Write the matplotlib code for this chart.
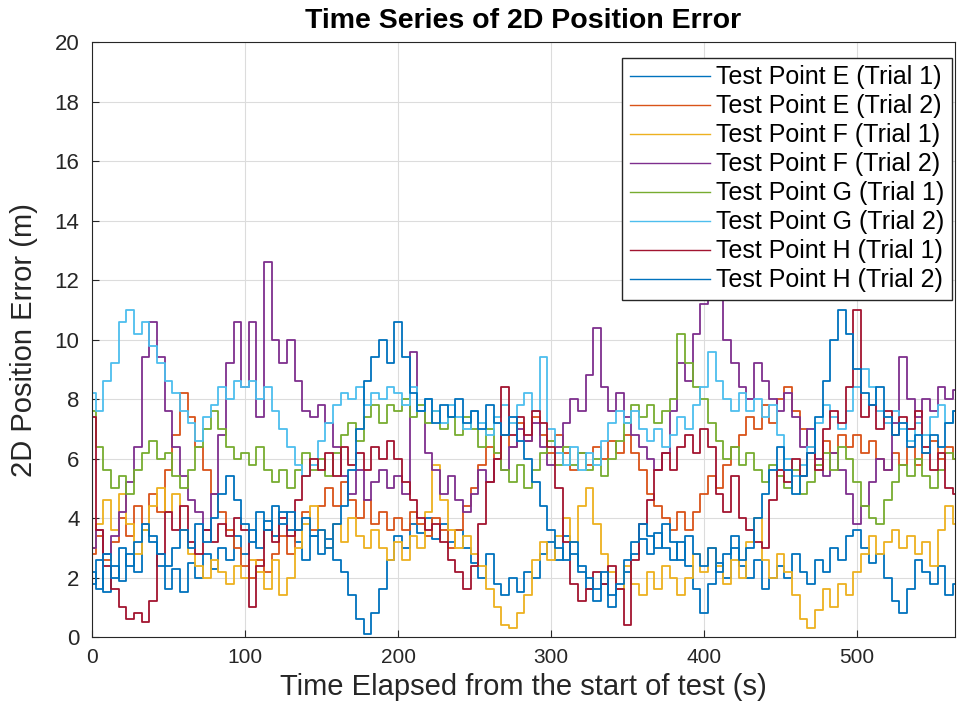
"""
Time series of 2D position error for test points E-H (two trials each).
"""

import numpy as np
import matplotlib
matplotlib.use("Agg")
import matplotlib.pyplot as plt

plt.rcParams["font.family"] = ["Liberation Sans", "DejaVu Sans"]

# Sample times (s), one value every 5 s
time_s = np.arange(0, 566, 5)

e_trial1 = [
    1.8, 2.6, 1.5, 2.4, 1.9, 2.8, 2.2, 3.6, 3.2, 2.4,
    1.6, 2.3, 1.5, 2.5, 2.0, 2.8, 2.3, 3.0, 2.6, 3.4,
    2.8, 3.6, 3.0, 3.9, 3.4, 4.2, 3.6, 3.2, 2.6, 3.4,
    2.8, 3.3, 2.6, 2.2, 1.4, 0.6, 0.1, 0.8, 1.6, 2.6,
    3.4, 3.0, 3.8, 3.5, 4.0, 3.3, 3.8, 3.2, 3.6, 3.0,
    2.5, 2.0, 2.8, 1.8, 1.4, 2.0, 1.5, 2.2, 2.0, 2.8,
    3.2, 2.6, 3.4, 2.8, 2.2, 1.6, 1.2, 1.8, 1.0, 1.6,
    2.2, 2.8, 3.3, 2.8, 3.5, 3.0, 2.6, 3.2, 2.4, 1.6,
    0.8, 1.8, 2.5, 2.0, 3.0, 2.4, 2.0, 2.6, 1.6, 2.0,
    2.4, 2.0, 2.8, 2.2, 1.8, 2.6, 2.2, 3.0, 2.6, 3.4,
    3.6, 3.0, 2.5, 2.8, 2.0, 1.2, 0.8, 1.6, 2.6, 2.2,
    1.8, 2.4, 1.4, 1.8,
]
e_trial2 = [
    2.8, 3.4, 2.6, 3.2, 4.0, 3.4, 4.4, 3.8, 4.8, 4.2,
    5.6, 6.8, 8.2, 7.4, 6.4, 5.6, 4.8, 4.2, 3.6, 3.0,
    2.4, 2.0, 2.6, 2.2, 2.8, 3.4, 2.8, 3.6, 4.2, 3.6,
    4.4, 5.0, 4.4, 5.2, 4.6, 4.0, 4.6, 3.8, 4.2, 3.6,
    4.0, 3.6, 4.2, 3.8, 3.4, 4.0, 3.6, 3.0, 3.6, 4.4,
    5.0, 5.8, 6.4, 6.0, 6.8, 6.4, 7.2, 6.6, 7.4, 6.8,
    6.2, 6.8, 6.2, 5.6, 6.2, 5.8, 6.4, 6.0, 6.6, 6.2,
    6.8, 6.2, 5.6, 4.8, 4.4, 4.0, 3.6, 4.2, 3.6, 4.2,
    4.8, 5.4, 5.0, 5.8, 6.4, 6.8, 7.4, 7.0, 7.8, 7.2,
    8.0, 8.4, 7.6, 7.0, 6.4, 6.0, 6.6, 6.2, 6.8, 6.4,
    6.8, 6.2, 6.6, 6.0, 5.6, 6.2, 5.8, 6.4, 5.8, 6.2,
    6.6, 6.0, 6.4, 6.0,
]
f_trial1 = [
    3.0, 3.8, 4.6, 3.6, 4.8, 3.8, 2.8, 3.6, 4.4, 5.0,
    4.2, 4.8, 3.6, 2.8, 2.4, 2.0, 2.6, 2.2, 1.8, 2.4,
    2.0, 2.6, 2.2, 1.6, 2.6, 1.4, 2.0, 3.0, 3.8, 4.4,
    3.6, 3.0, 3.8, 3.2, 4.0, 3.4, 3.0, 3.6, 3.0, 2.6,
    3.2, 2.6, 3.4, 3.0, 4.2, 5.8, 4.6, 3.6, 3.0, 3.4,
    2.8, 2.4, 1.6, 1.0, 0.4, 0.3, 0.8, 1.4, 2.6, 3.2,
    2.6, 3.4, 4.0, 3.2, 4.4, 5.0, 3.8, 2.8, 2.2, 1.6,
    2.4, 1.8, 1.4, 2.2, 1.6, 2.4, 2.0, 1.4, 2.0, 2.8,
    2.2, 3.0, 2.4, 1.8, 2.6, 2.0, 3.2, 4.0, 2.6, 2.0,
    2.8, 2.2, 1.4, 0.6, 0.3, 0.9, 1.6, 1.0, 1.8, 1.4,
    2.2, 2.8, 3.4, 2.8, 3.2, 3.6, 3.0, 3.4, 2.8, 3.2,
    2.4, 3.6, 4.4, 3.8,
]
f_trial2 = [
    3.0, 3.6, 2.8, 3.4, 4.2, 5.2, 6.4, 9.4, 10.6, 9.4,
    7.6, 6.4, 5.4, 4.6, 4.2, 3.6, 4.8, 6.8, 9.2, 10.6,
    8.4, 10.6, 7.4, 12.6, 10.0, 9.2, 10.0, 8.6, 7.6, 7.4,
    7.8, 7.2, 6.4, 5.4, 4.8, 5.6, 4.6, 5.2, 5.6, 5.0,
    5.4, 4.8, 9.6, 7.6, 6.2, 5.6, 4.8, 5.4, 4.6, 4.2,
    4.8, 5.6, 5.2, 6.0, 5.6, 6.4, 7.0, 6.6, 7.2, 6.4,
    5.8, 6.4, 7.2, 8.0, 7.6, 8.8, 10.4, 8.4, 7.6, 8.2,
    7.4, 6.8, 6.4, 6.0, 5.6, 6.2, 7.6, 9.2, 8.6, 10.2,
    11.2, 11.8, 11.4, 10.0, 9.2, 8.4, 8.0, 9.2, 8.6, 8.0,
    7.6, 8.2, 7.4, 6.4, 7.0, 6.0, 5.4, 6.2, 5.6, 4.8,
    3.8, 4.4, 5.2, 6.0, 5.6, 7.2, 9.4, 8.0, 7.4, 8.0,
    7.6, 8.4, 8.0, 8.3,
]
g_trial1 = [
    7.6, 6.4, 5.6, 5.0, 5.4, 4.8, 5.6, 6.2, 6.6, 6.0,
    6.2, 5.4, 5.0, 5.6, 6.4, 7.0, 7.6, 7.0, 6.4, 6.0,
    6.2, 5.8, 6.4, 5.6, 5.2, 5.6, 5.0, 5.6, 6.2, 5.6,
    6.0, 5.4, 6.2, 6.8, 7.2, 6.6, 7.4, 7.8, 7.2, 7.8,
    7.6, 8.0, 7.4, 7.8, 7.2, 7.6, 7.0, 7.4, 6.8, 7.4,
    7.0, 6.4, 7.0, 6.2, 5.6, 5.2, 5.8, 5.0, 5.6, 6.2,
    6.6, 5.8, 6.4, 5.8, 6.2, 5.6, 6.0, 5.4, 6.0, 6.6,
    7.2, 7.8, 7.4, 7.8, 7.2, 7.6, 8.0, 10.2, 9.2, 8.4,
    8.0, 7.2, 6.6, 6.0, 6.4, 5.8, 6.2, 5.6, 5.2, 5.8,
    5.4, 5.0, 5.6, 4.8, 5.2, 5.8, 6.2, 5.6, 6.4, 6.0,
    5.2, 4.4, 4.0, 3.8, 4.6, 5.2, 5.8, 5.4, 6.0, 5.4,
    5.0, 5.6, 6.2, 6.0,
]
g_trial2 = [
    8.2, 7.6, 8.6, 9.2, 10.6, 11.0, 10.2, 10.6, 9.8, 9.2,
    8.6, 8.2, 7.6, 7.2, 6.6, 7.4, 7.8, 8.4, 8.0, 8.6,
    8.4, 8.6, 8.0, 8.4, 7.6, 7.0, 6.4, 5.8, 5.4, 5.8,
    6.6, 7.2, 7.8, 8.2, 8.0, 8.4, 7.8, 8.2, 8.0, 8.4,
    8.2, 7.8, 8.4, 7.6, 8.0, 7.6, 7.2, 7.8, 7.4, 7.0,
    7.6, 7.2, 6.8, 7.4, 7.8, 7.2, 7.8, 8.2, 7.6, 9.4,
    7.0, 6.2, 5.8, 6.4, 5.6, 6.2, 5.8, 6.6, 7.2, 7.6,
    7.2, 7.6, 7.0, 6.6, 7.0, 6.4, 6.8, 7.4, 7.0, 7.8,
    8.4, 9.6, 8.6, 8.0, 7.6, 8.2, 7.6, 8.0, 7.4, 7.8,
    6.8, 6.0, 5.4, 5.8, 6.4, 7.2, 7.8, 7.4, 7.0, 7.6,
    8.4, 9.0, 8.4, 7.6, 7.2, 7.6, 7.0, 6.6, 7.2, 6.8,
    7.4, 7.8, 7.2, 7.6,
]
h_trial1 = [
    7.4, 3.6, 2.4, 1.6, 1.0, 0.6, 0.8, 0.5, 1.2, 2.8,
    4.2, 3.6, 4.4, 3.2, 2.8, 3.6, 3.2, 3.8, 3.4, 4.0,
    3.6, 1.0, 2.4, 3.6, 3.2, 4.0, 3.4, 4.6, 5.4, 6.0,
    5.6, 6.2, 5.4, 6.4, 5.8, 6.2, 5.6, 6.4, 6.0, 6.6,
    6.0, 5.2, 4.6, 4.0, 3.6, 3.8, 3.2, 2.6, 2.2, 1.6,
    2.4, 3.8, 5.2, 6.0, 8.4, 6.8, 7.4, 6.8, 7.6, 7.2,
    6.4, 5.0, 3.2, 1.8, 1.2, 1.6, 2.2, 1.8, 2.4, 1.6,
    0.4, 2.6, 3.8, 4.6, 5.6, 6.2, 5.6, 6.4, 6.8, 6.2,
    7.0, 6.4, 4.8, 4.2, 5.4, 4.0, 3.6, 3.2, 3.0, 4.6,
    5.6, 5.2, 6.0, 5.4, 6.2, 5.6, 7.0, 7.6, 7.2, 8.4,
    11.0, 7.4, 7.8, 7.0, 7.6, 6.8, 7.4, 7.0, 7.6, 6.4,
    5.6, 6.2, 5.0, 4.8,
]
h_trial2 = [
    2.2, 1.6, 2.8, 2.0, 3.0, 2.4, 3.2, 3.8, 3.4, 2.8,
    2.4, 3.0, 3.6, 3.0, 3.8, 3.2, 4.0, 4.8, 5.4, 4.6,
    3.8, 3.2, 4.2, 3.6, 4.4, 3.8, 4.2, 3.6, 4.0, 3.4,
    3.6, 3.0, 3.8, 4.4, 5.6, 7.0, 8.6, 9.4, 10.0, 9.2,
    10.6, 9.4, 8.2, 7.6, 8.0, 7.2, 7.8, 7.4, 8.0, 7.2,
    7.6, 7.0, 7.8, 7.2, 6.8, 7.4, 6.6, 6.0, 5.2, 4.4,
    3.6, 3.0, 2.6, 3.2, 2.4, 2.0, 1.6, 2.2, 1.4, 1.8,
    2.6, 3.2, 3.8, 3.4, 3.0, 3.8, 3.2, 2.6, 3.4, 2.8,
    2.4, 3.0, 2.2, 2.8, 3.4, 2.6, 3.0, 4.0, 4.8, 5.6,
    6.4, 5.6, 4.8, 5.4, 6.2, 7.4, 8.6, 10.0, 11.0, 10.2,
    9.0, 8.2, 7.8, 8.4, 7.4, 6.8, 7.2, 6.4, 6.8, 6.2,
    6.8, 6.4, 7.2, 7.6,
]

series = [e_trial1, e_trial2, f_trial1, f_trial2,
          g_trial1, g_trial2, h_trial1, h_trial2]
labels = ["Test Point E (Trial 1)", "Test Point E (Trial 2)",
          "Test Point F (Trial 1)", "Test Point F (Trial 2)",
          "Test Point G (Trial 1)", "Test Point G (Trial 2)",
          "Test Point H (Trial 1)", "Test Point H (Trial 2)"]

# MATLAB default line colours (the order wraps round after seven)
colors = ["#0072BD", "#D95319", "#EDB120", "#7E2F8E",
          "#77AC30", "#4DBEEE", "#A2142F", "#0072BD"]

fig = plt.figure(figsize=(9.58, 7.15), dpi=100)
ax = fig.add_axes([0.096, 0.109, 0.901, 0.832])

for vals, label, color in zip(series, labels, colors):
    ax.plot(time_s, vals, color=color, linewidth=1.3, label=label,
            drawstyle="steps-mid")

ax.set_xlim(0, 564)
ax.set_ylim(0, 20)
ax.set_xticks(np.arange(0, 501, 100))
ax.set_yticks(np.arange(0, 21, 2))
ax.tick_params(direction="in", labelsize=15, colors="#262626", length=5)
ax.tick_params(axis="x", pad=8)
ax.tick_params(axis="y", pad=9, labelsize=16)
ax.grid(True, color="#dcdcdc", linewidth=0.8)
ax.set_axisbelow(True)
for spine in ax.spines.values():
    spine.set_color("#262626")

ax.set_title("Time Series of 2D Position Error", fontsize=20.5,
             fontweight="bold", pad=10)
ax.set_xlabel("Time Elapsed from the start of test (s)", fontsize=21,
              color="#262626", labelpad=4)
ax.set_ylabel("2D Position Error (m)", fontsize=21, color="#262626",
              labelpad=12)

leg = ax.legend(loc="upper right", bbox_to_anchor=(0.9937, 0.9189),
                bbox_transform=fig.transFigure, borderaxespad=0,
                fontsize=18, handlelength=3.2, handletextpad=0.25,
                fancybox=False, framealpha=1, edgecolor="#262626",
                labelspacing=0.2, borderpad=0.3)
leg.get_frame().set_linewidth(1.0)
for line in leg.get_lines():
    line.set_linewidth(1.0)

fig.savefig("out.png", dpi=100)
